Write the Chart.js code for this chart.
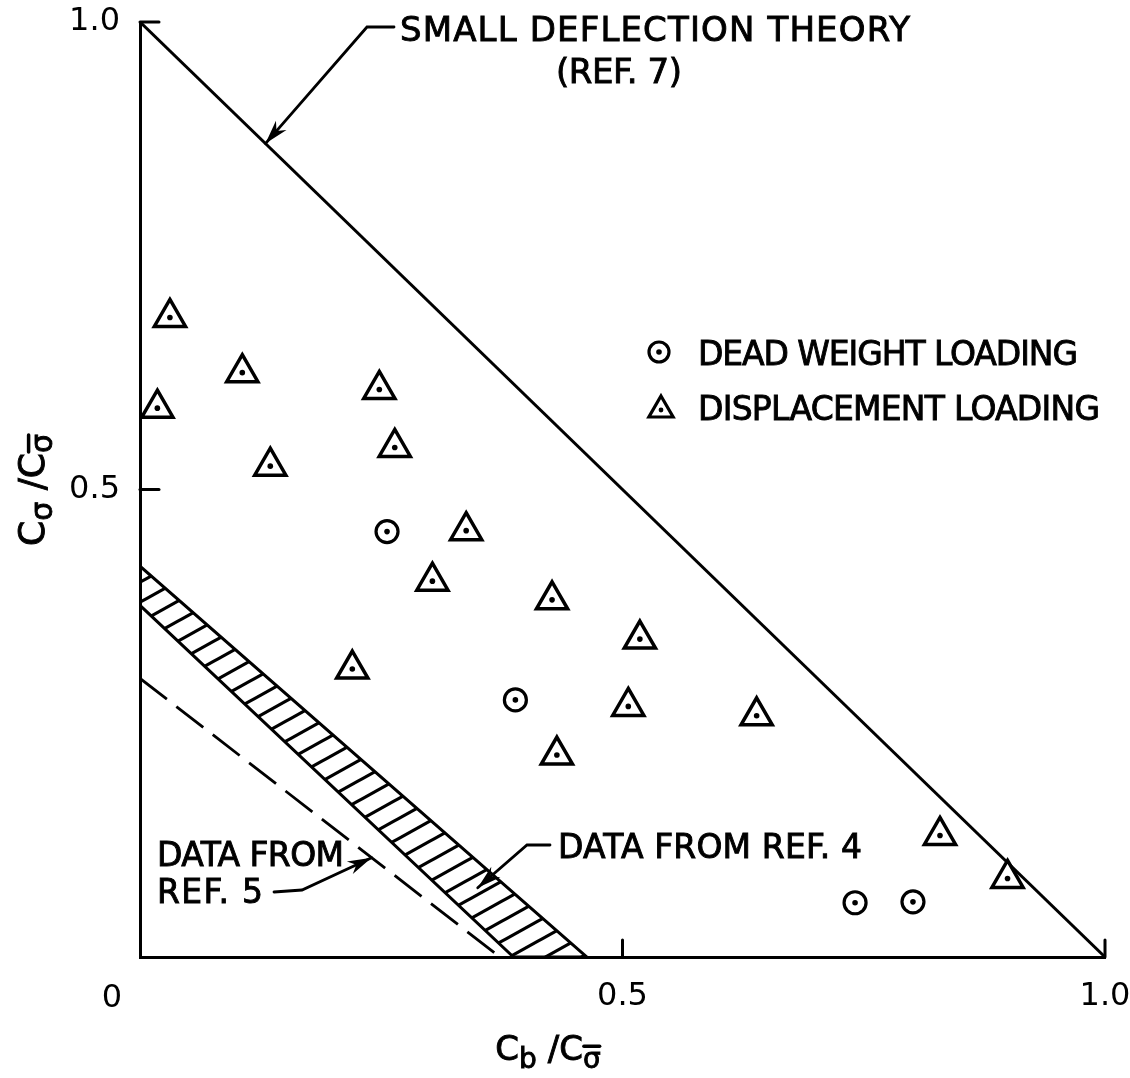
<!DOCTYPE html>
<html>
<head>
<meta charset="utf-8">
<script src="https://cdn.jsdelivr.net/npm/chart.js@4.4.0/dist/chart.umd.min.js"></script>
<style>
  html, body { margin: 0; background: #fff; }
</style>
</head>
<body>
<canvas id="chart" width="1130" height="1078"></canvas>
<script>
// displacement loading (triangles)
const triX = [0.031, 0.018, 0.106, 0.135, 0.248, 0.264, 0.338, 0.303, 0.427, 0.518, 0.220, 0.506, 0.432, 0.639, 0.829, 0.899];
const triY = [0.684, 0.587, 0.625, 0.525, 0.607, 0.545, 0.456, 0.402, 0.382, 0.340, 0.308, 0.268, 0.216, 0.258, 0.130, 0.084];
// dead weight loading (circles)
const circX = [0.256, 0.389, 0.741, 0.801];
const circY = [0.455, 0.275, 0.058, 0.059];
// small deflection theory (ref 7)
const theoryX = [0, 1];
const theoryY = [1, 0];
// band, data from ref 4
const bandTopX = [0, 0.463];
const bandTopY = [0.418, 0];
const bandLowX = [0, 0.387];
const bandLowY = [0.376, 0];
// dashed, data from ref 5
const ref5X = [0, 0.373];
const ref5Y = [0.298, 0];
// ticks
const xTicks = [0.5, 1.0];
const yTicks = [0.5, 1.0];

const FONT = '"DejaVu Sans", sans-serif';
const pts = (xs, ys) => xs.map((v, i) => ({x: v, y: ys[i]}));

function hatch() {
  const w = 36, h = 20;
  const c = document.createElement('canvas');
  c.width = w; c.height = h;
  const g = c.getContext('2d');
  g.strokeStyle = '#000';
  g.lineWidth = 3.2;
  for (let k = -1; k <= 1; k++) {
    g.beginPath();
    g.moveTo(-w, 2 * h + k * h);
    g.lineTo(2 * w, -h + k * h);
    g.stroke();
  }
  return g.createPattern(c, 'repeat');
}

const bandPts = pts(bandTopX, bandTopY).concat(pts(bandLowX, bandLowY).reverse());
bandPts.push(bandPts[0]);

function spaced(ctx, str, x, base, width, size) {
  ctx.font = size + 'px ' + FONT;
  ctx.letterSpacing = '0px';
  const w = ctx.measureText(str).width;
  const n = str.length - 1;
  ctx.letterSpacing = (n > 0 ? (width - w) / n : 0) + 'px';
  ctx.textAlign = 'left';
  ctx.textBaseline = 'alphabetic';
  ctx.lineWidth = 0.9;
  ctx.fillText(str, x, base);
  ctx.strokeText(str, x, base);
  ctx.letterSpacing = '0px';
}

function arrow(ctx, path) {
  ctx.beginPath();
  ctx.moveTo(path[0][0], path[0][1]);
  path.slice(1).forEach(p => ctx.lineTo(p[0], p[1]));
  ctx.lineWidth = 2.8;
  ctx.stroke();
  const [a, b] = path.slice(-2);
  const ang = Math.atan2(b[1] - a[1], b[0] - a[0]);
  const L = 24, W = 7;
  ctx.beginPath();
  ctx.moveTo(b[0], b[1]);
  ctx.lineTo(b[0] - L * Math.cos(ang) + W * Math.sin(ang), b[1] - L * Math.sin(ang) - W * Math.cos(ang));
  ctx.lineTo(b[0] - 0.7 * L * Math.cos(ang), b[1] - 0.7 * L * Math.sin(ang));
  ctx.lineTo(b[0] - L * Math.cos(ang) - W * Math.sin(ang), b[1] - L * Math.sin(ang) + W * Math.cos(ang));
  ctx.closePath();
  ctx.fill();
}

// draws C_sub / C_sub2 style label centred at the origin
function ratio(ctx, sub1, sub2, big, small) {
  const drop = 8;
  const parts = [
    {t: 'C', s: big, d: 0},
    {t: sub1, s: small, d: drop},
    {t: ' /', s: big, d: 0},
    {t: 'C', s: big, d: 0},
    {t: sub2, s: small, d: drop, bar: true}
  ];
  let total = 0;
  parts.forEach(p => { ctx.font = p.s + 'px ' + FONT; p.w = ctx.measureText(p.t).width; total += p.w; });
  let x = -total / 2;
  ctx.textAlign = 'left';
  ctx.textBaseline = 'alphabetic';
  parts.forEach(p => {
    ctx.font = p.s + 'px ' + FONT;
    ctx.lineWidth = 0.9;
    ctx.fillText(p.t, x, p.d);
    ctx.strokeText(p.t, x, p.d);
    if (p.bar) {
      ctx.beginPath();
      ctx.moveTo(x + 1, p.d - 0.78 * small);
      ctx.lineTo(x + p.w - 1, p.d - 0.78 * small);
      ctx.lineWidth = 3.5;
      ctx.stroke();
    }
    x += p.w;
  });
}

const notes = {
  id: 'notes',
  afterDraw(chart) {
    const {ctx} = chart;
    const sx = chart.scales.x, sy = chart.scales.y;
    const X = v => sx.getPixelForValue(v), Y = v => sy.getPixelForValue(v);
    const x0 = X(0), y0 = Y(0);
    ctx.save();
    ctx.fillStyle = '#000';
    ctx.strokeStyle = '#000';
    ctx.lineCap = 'round';

    // inward tick marks
    ctx.lineWidth = 3;
    xTicks.forEach(v => {
      ctx.beginPath(); ctx.moveTo(X(v), y0); ctx.lineTo(X(v), y0 - 17); ctx.stroke();
    });
    yTicks.forEach(v => {
      ctx.beginPath(); ctx.moveTo(x0, Y(v)); ctx.lineTo(x0 + 19, Y(v)); ctx.stroke();
    });

    // origin label
    ctx.font = '32px ' + FONT;
    ctx.textAlign = 'center';
    ctx.textBaseline = 'middle';
    ctx.fillText('0', x0 - 28, y0 + 42);

    // theory note
    spaced(ctx, 'SMALL DEFLECTION THEORY', 400, 41, 510, 34);
    spaced(ctx, '(REF. 7)', 556, 83, 126, 34);
    const tx = 0.130;
    arrow(ctx, [[394, 27], [367, 27], [X(tx), Y(1 - tx)]]);

    // ref 4 note
    spaced(ctx, 'DATA FROM REF. 4', 558, 858, 304, 33);
    arrow(ctx, [[550, 845], [527, 845], [X(0.350), Y(0.074)]]);

    // ref 5 note
    spaced(ctx, 'DATA FROM', 157, 866, 187, 33);
    spaced(ctx, 'REF. 5', 157, 903, 106, 33);
    const rx = 0.240;
    arrow(ctx, [[274, 892], [302, 890], [X(rx), Y(ref5Y[0] * (1 - rx / ref5X[1]))]]);

    // legend
    ctx.lineWidth = 3.2;
    ctx.beginPath(); ctx.arc(659, 352, 10, 0, Math.PI * 2); ctx.stroke();
    ctx.beginPath(); ctx.arc(659, 352, 2.8, 0, Math.PI * 2); ctx.fill();
    const r = 14;
    ctx.beginPath();
    ctx.moveTo(661, 410 - r);
    ctx.lineTo(661 + r * 0.866, 410 + r * 0.5);
    ctx.lineTo(661 - r * 0.866, 410 + r * 0.5);
    ctx.closePath();
    ctx.lineJoin = 'miter';
    ctx.stroke();
    ctx.beginPath(); ctx.arc(661, 410, 2.4, 0, Math.PI * 2); ctx.fill();
    spaced(ctx, 'DEAD WEIGHT LOADING', 698, 365, 380, 33);
    spaced(ctx, 'DISPLACEMENT LOADING', 698, 420, 402, 33);

    // axis titles
    ctx.save();
    ctx.translate(548, 1060);
    ratio(ctx, 'b', 'σ', 34, 28);
    ctx.restore();
    ctx.save();
    ctx.translate(44, 490);
    ctx.rotate(-Math.PI / 2);
    ratio(ctx, 'σ', 'σ', 36, 30);
    ctx.restore();

    ctx.restore();
  }
};

const lineBase = {showLine: true, pointRadius: 0, borderColor: '#000', borderWidth: 3, tension: 0, fill: false, order: 3};

function noPad(s) {
  s.paddingTop = 0; s.paddingBottom = 0; s.paddingLeft = 0; s.paddingRight = 0;
}

new Chart(document.getElementById('chart'), {
  type: 'scatter',
  data: {
    datasets: [
      {data: pts(triX, triY), pointStyle: 'circle', pointRadius: 2.8, backgroundColor: '#000', borderWidth: 0, order: 0},
      {data: pts(circX, circY), pointStyle: 'circle', pointRadius: 2.8, backgroundColor: '#000', borderWidth: 0, order: 0},
      {data: pts(triX, triY), pointStyle: 'triangle', pointRadius: 18, backgroundColor: '#fff', borderColor: '#000', borderWidth: 3.5, order: 1},
      {data: pts(circX, circY), pointStyle: 'circle', pointRadius: 11, backgroundColor: '#fff', borderColor: '#000', borderWidth: 3.2, order: 1},
      Object.assign({}, lineBase, {data: pts(theoryX, theoryY)}),
      Object.assign({}, lineBase, {data: bandPts, fill: 'shape', backgroundColor: hatch()}),
      Object.assign({}, lineBase, {data: pts(ref5X, ref5Y), borderWidth: 2.8, borderDash: [34, 12]})
    ]
  },
  options: {
    responsive: false,
    animation: false,
    devicePixelRatio: 1,
    layout: {padding: {left: 0, right: 25, top: 22, bottom: 0}},
    plugins: {legend: {display: false}, tooltip: {enabled: false}},
    scales: {
      x: {
        type: 'linear', min: 0, max: 1,
        afterFit: s => { s.height = 121; noPad(s); },
        afterBuildTicks: s => { s.ticks = xTicks.map(v => ({value: v})); },
        grid: {display: true, color: 'rgba(0,0,0,0)', drawTicks: false},
        border: {display: true, color: '#000', width: 3},
        ticks: {padding: 20, color: '#000', font: {family: FONT, size: 32}, maxRotation: 0, callback: v => v.toFixed(1)}
      },
      y: {
        type: 'linear', min: 0, max: 1,
        afterFit: s => { s.width = 140; noPad(s); },
        afterBuildTicks: s => { s.ticks = yTicks.map(v => ({value: v})); },
        grid: {display: true, color: 'rgba(0,0,0,0)', drawTicks: false},
        border: {display: true, color: '#000', width: 3},
        ticks: {padding: 20, color: '#000', font: {family: FONT, size: 32}, callback: v => v.toFixed(1)}
      }
    }
  },
  plugins: [notes]
});
</script>
</body>
</html>
